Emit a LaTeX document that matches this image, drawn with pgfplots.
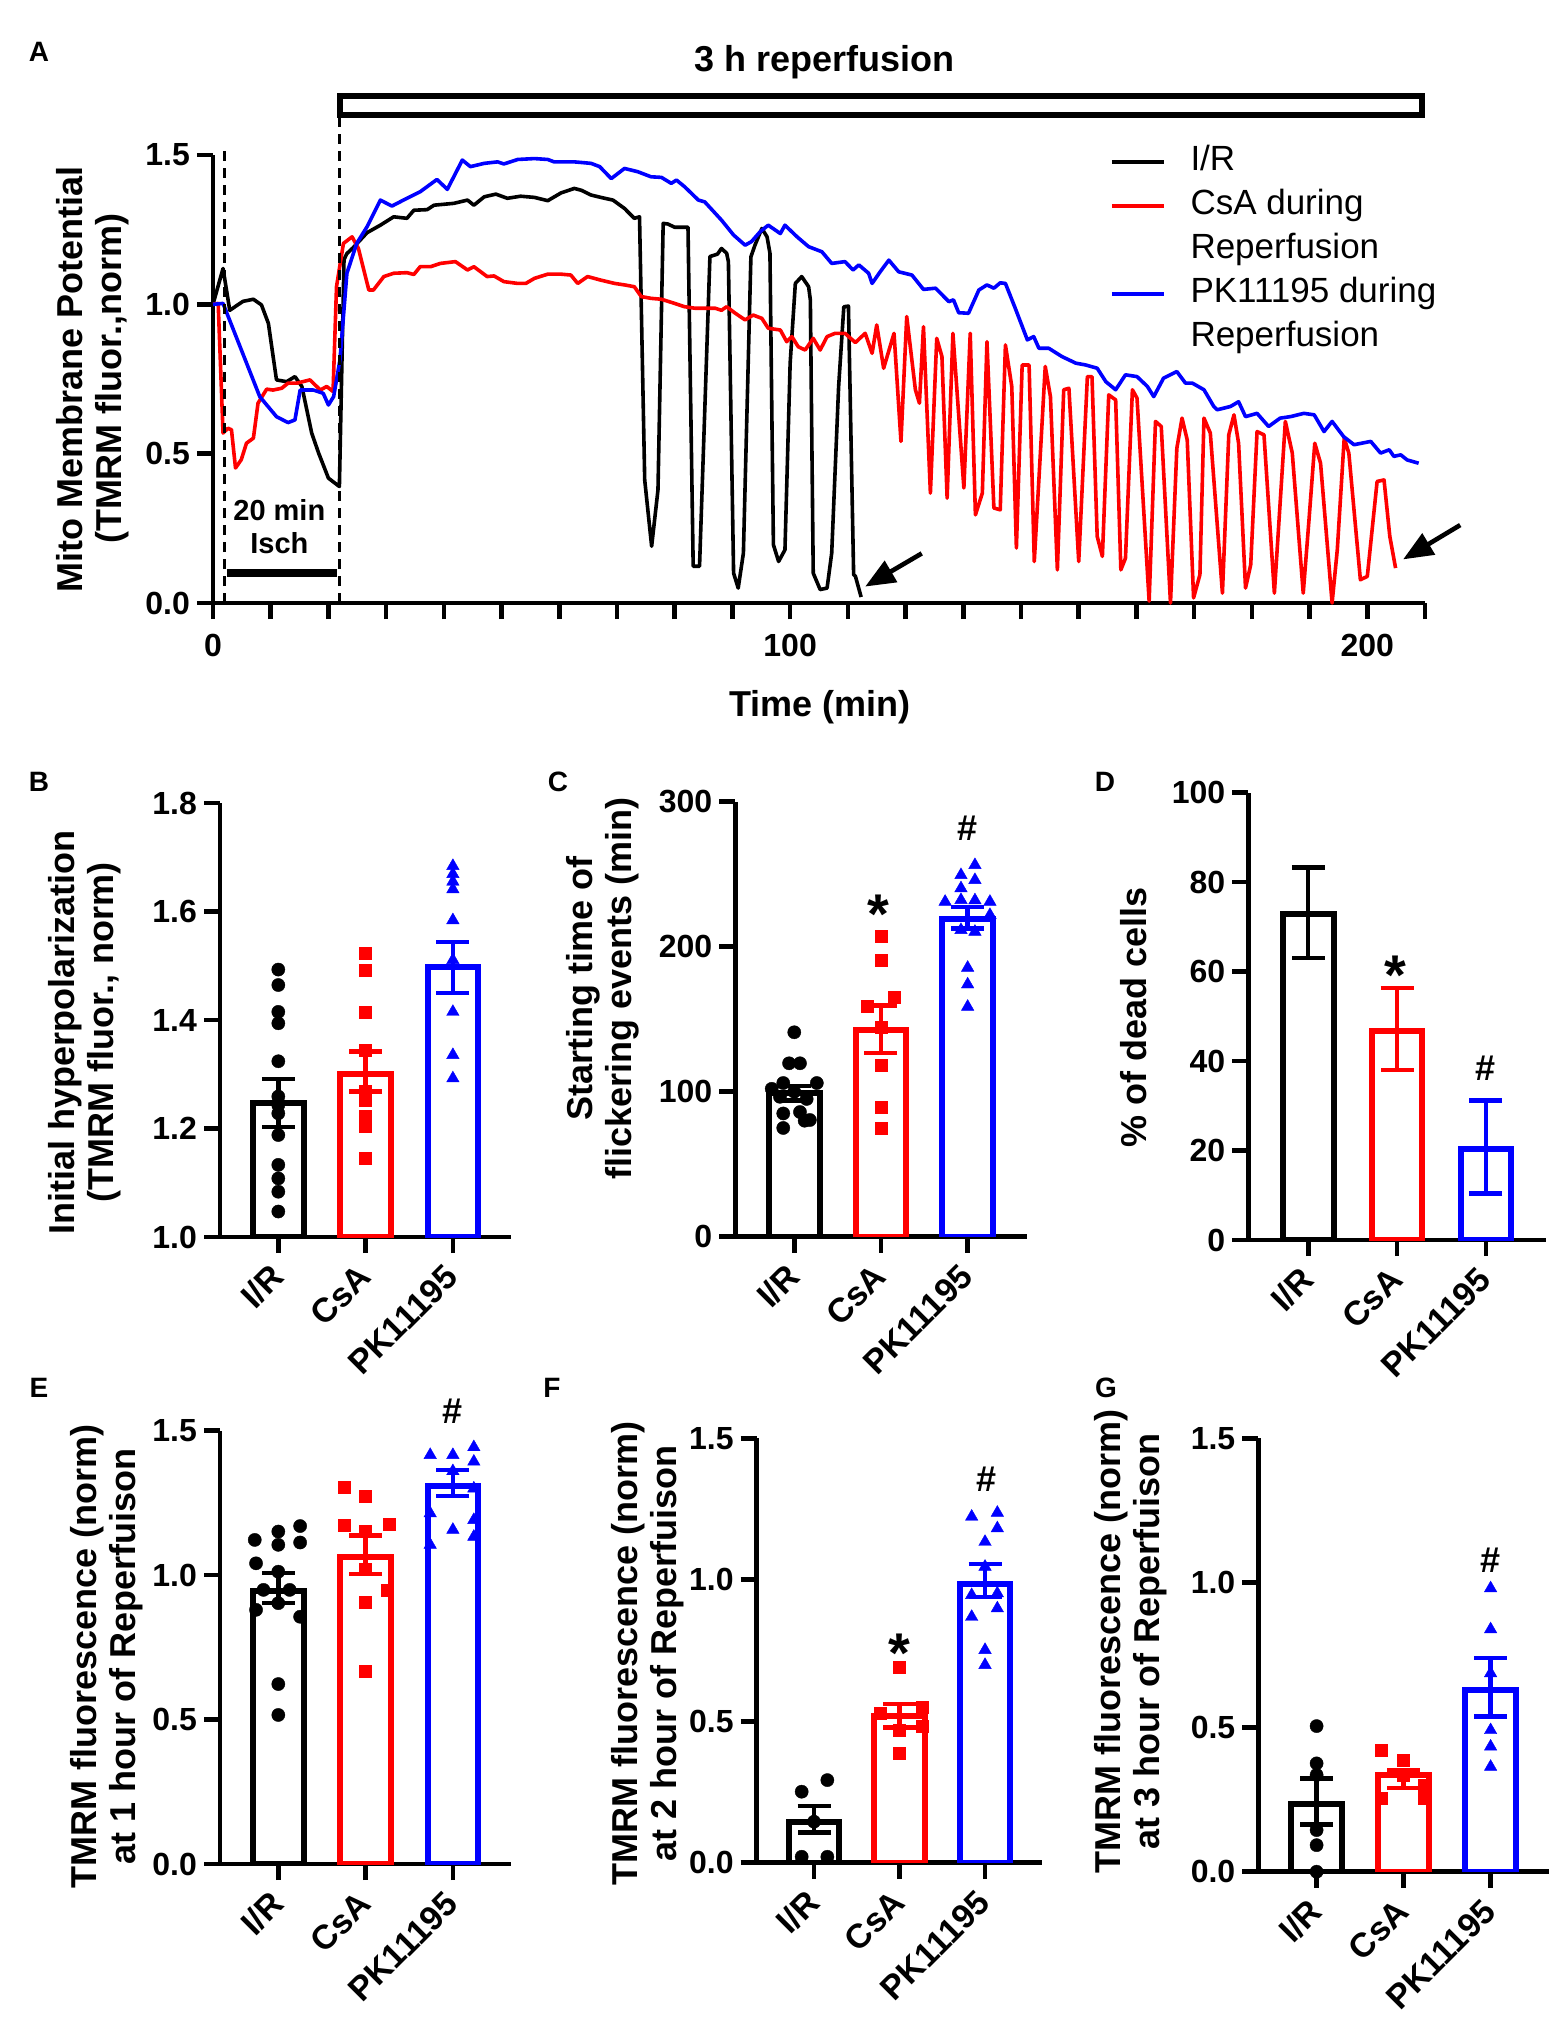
\documentclass[border=0pt]{standalone}
\usepackage{fontspec}
\setmainfont{Liberation Sans}
\usepackage{pgfplots}
\pgfplotsset{compat=1.18}
\usetikzlibrary{arrows.meta}

\definecolor{gpred}{RGB}{255,0,0}
\definecolor{gpblue}{RGB}{0,0,255}

\tikzset{
 gpstar/.style={font=\bfseries\fontsize{28}{28}\selectfont, anchor=north, inner sep=0pt},
 gphash/.style={font=\bfseries\fontsize{18}{18}\selectfont, inner sep=0pt},
}
\pgfplotsset{
 gp/.style={
  scale only axis,
  axis x line*=bottom, axis y line*=left,
  axis line style={line width=2.3pt, -},
  every outer x axis line/.append style={-},
  every outer y axis line/.append style={-},
  tick style={line width=2.3pt, black},
  tick align=outside, major tick length=8pt, minor tick length=8pt,
  /pgf/number format/assume math mode=true,
  yticklabel style={font=\bfseries\fontsize{16}{16}\selectfont},
  xticklabel style={font=\bfseries\fontsize{16}{16}\selectfont},
  label style={font=\bfseries\fontsize{18}{19.5}\selectfont, align=center},
  clip mode=individual,
 },
 barax/.style={gp,
  xtick={0,1,2}, xticklabels={I/R,CsA,PK11195},
  xticklabel shift=6.5pt,
  xticklabel style={xshift=2pt, rotate=45, anchor=east, font=\bfseries\fontsize{17}{17}\selectfont},
 },
 onedec/.style={yticklabel style={/pgf/number format/fixed, /pgf/number format/fixed zerofill, /pgf/number format/precision=1}},
 gbar/.style={ybar, bar width=25.3pt, bar shift=0pt, fill=white, line width=3pt, draw=#1},
 eb/.style={draw=none, mark=none, forget plot,
   /pgfplots/error bars/y dir=both, /pgfplots/error bars/y explicit,
   /pgfplots/error bars/error mark=-,
   /pgfplots/error bars/error bar style={draw=#1, line width=2.2pt},
   /pgfplots/error bars/error mark options={rotate=90, draw=#1, line width=2.2pt, mark size=8.25pt}},
 dots/.style={only marks, mark=*, mark size=3.3pt, black, mark options={fill=black, draw=black, line width=0.2pt}},
 sqs/.style={only marks, mark=square*, mark size=3pt, gpred, mark options={fill=gpred, draw=gpred, line width=0.2pt}},
 tris/.style={only marks, mark=triangle*, mark size=3.6pt, gpblue, mark options={fill=gpblue, draw=gpblue, line width=0.2pt}},
}

\begin{document}
\begin{tikzpicture}
\path[use as bounding box] (0,0) rectangle (781pt,-1010.5pt);

% ---------------- Panel A ----------------
\begin{axis}[gp, at={(106.5pt,-301.5pt)}, anchor=south west, width=606pt, height=224pt,
  xmin=0, xmax=210, ymin=0, ymax=1.5,
  xtick={0,100,200}, minor xtick={10,20,...,210},
  xticklabel shift=4pt,
  ytick={0,0.5,1,1.5}, onedec,
  xlabel={Time (min)}, ylabel={Mito Membrane Potential\\(TMRM fluor.,norm)},
  xlabel style={at={(axis description cs:0.501,-0.233)}, anchor=center},
  ylabel style={at={(axis description cs:-0.099,0.5)}, anchor=center},
  clip=false,
  legend style={at={(axis description cs:0.74,1.021)}, anchor=north west, draw=none, fill=none,
    inner sep=0pt, outer sep=0pt, row sep=6pt, column sep=12.5pt,
    font=\fontsize{17.5}{20}\selectfont,
    nodes={inner sep=0pt, text height=12.6pt, text depth=3.4pt}},
  legend cell align=left,
  legend image code/.code={\draw[#1] (0pt,0pt) -- (25.8pt,0pt);},
]
\addplot[black, line width=1.8pt, line join=round, forget plot] coordinates {
(0,1.0) (1.74,1.12) (2.9,0.98) (5.2,1.01) (7.0,1.017) (8.4,0.998) (9.6,0.936) (11,0.747) (12.75,0.741) (14.2,0.758) (15.4,0.725) (17.1,0.569) (18.3,0.502) (20,0.418) (21.9,0.39) (22.7,1.15) (23.2,1.17)
(24.3,1.19) (26.7,1.24) (29,1.265) (31.3,1.293) (33.6,1.288) (34.8,1.315) (37.1,1.317) (38.3,1.332) (41.7,1.338) (44.1,1.349) (45.2,1.332) (47,1.36) (49,1.369) (51,1.355) (53.3,1.362) (55.7,1.358) (58,1.347) (60.3,1.373) (62.6,1.388) (63.8,1.382) (65.5,1.366) (67.2,1.358) (69.3,1.349) (71.3,1.321) (73,1.288) (73.9,1.293)
(74.8,0.412) (76,0.19) (77.1,0.379) (78,1.271) (78.8,1.269) (80,1.258) (82.3,1.258) (83.2,0.123) (84.3,0.123) (86.1,1.16) (87.4,1.168) (88.1,1.187) (89,1.171) (89.3,1.143) (90.2,0.1) (91,0.05) (91.9,0.167) (93.2,1.159) (93.9,1.198) (95.1,1.254) (96,1.226) (96.5,1.171) (97.1,0.195) (98,0.139) (99.1,0.178) (100,0.803) (100.9,1.07) (102,1.093) (103.2,1.059) (103.5,1.015) (104,0.1) (105.2,0.045) (106.4,0.05) (107.2,0.167) (108.4,0.725) (109.3,0.992) (110.1,0.994) (111,0.095) (111.3,0.09) (112.3,0.02)
};
\addplot[gpred, line width=1.8pt, line join=round, forget plot] coordinates {
(0,1.0) (0.9,1.003) (1.74,0.569) (2.6,0.585) (3.2,0.58) (3.9,0.452) (4.9,0.48) (5.8,0.535) (7,0.552) (7.8,0.669) (9.3,0.716) (10.4,0.713) (11.9,0.719) (13,0.736) (14.5,0.736) (16.8,0.747) (18.6,0.713) (19.7,0.725) (20.8,0.708) (21.4,1.059) (22.6,1.204) (24.1,1.226) (25.2,1.187) (27,1.048) (27.8,1.048) (29.6,1.093) (31.3,1.104) (33.6,1.106) (34.8,1.1) (35.9,1.126) (37.7,1.126) (39.4,1.137) (42,1.143) (44.1,1.115) (45.2,1.126) (47.5,1.093) (48.7,1.095) (50.4,1.076) (52.8,1.07) (54.2,1.07) (55.7,1.087) (58,1.101) (60.3,1.101) (62,1.098) (63.2,1.07) (64.9,1.093) (67.2,1.081) (69.6,1.07) (71.3,1.065) (73,1.059) (74.2,1.026) (75.9,1.02) (77.7,1.017) (80,1.003) (81.7,0.992) (83.5,0.987) (85.8,0.987) (87,0.987) (88.1,0.98) (89,0.992) (90.5,0.97) (92.2,0.948) (93.6,0.964) (95.1,0.953) (96.2,0.92) (98.3,0.914) (99.4,0.875) (100.3,0.892) (101.4,0.858) (102.6,0.847) (104,0.886) (105.2,0.847) (106.4,0.892) (107.8,0.903) (109.5,0.903) (111.3,0.872) (113,0.903) (114.2,0.836) (115,0.931) (116.2,0.786) (118,0.903) (119.2,0.541) (120.2,0.959) (121.7,0.714) (122.4,0.669) (123.1,0.925) (124.3,0.368) (125.4,0.886) (126.3,0.825) (127.2,0.351) (128.2,0.903) (130.1,0.385) (131.2,0.903) (132.1,0.295) (133.3,0.368) (134.1,0.875) (135.3,0.318) (136.4,0.312) (137.3,0.864) (138.4,0.725) (139.2,0.184) (140.2,0.797) (141.4,0.797) (142.3,0.139) (144.2,0.792) (145.1,0.691) (146.3,0.111) (147.4,0.714) (148.3,0.719) (150,0.139) (151.5,0.758) (152.3,0.758) (153.2,0.223) (154.1,0.156) (155.2,0.697) (156.4,0.68) (157.3,0.111) (158.1,0.15) (159.3,0.714) (160.1,0.686) (162.2,0.006) (163.3,0.608) (164.3,0.591) (165.9,0.0) (167,0.518) (167.9,0.619) (168.8,0.546) (169.9,0.017) (171,0.095) (171.7,0.619) (172.8,0.569) (174.9,0.033) (176,0.563) (176.9,0.63) (177.7,0.535) (178.9,0.05) (179.8,0.128) (180.9,0.574) (182.1,0.563) (183.9,0.033) (185.8,0.608) (187,0.502) (188.9,0.033) (189.9,0.279) (190.9,0.535) (191.9,0.468) (193.9,0.0) (194.8,0.178) (196,0.552) (196.8,0.502) (198.8,0.078) (200,0.089) (201.7,0.407) (202.9,0.412) (203.9,0.223) (204.9,0.117)
};
\addplot[gpblue, line width=1.8pt, line join=round, forget plot] coordinates {
(0,1.0) (1.74,1.003) (8.1,0.691) (11,0.624) (13,0.604) (14.2,0.613) (15.1,0.713) (17.4,0.713) (19.1,0.702) (20,0.663) (20.9,0.691) (22,0.814) (23.2,1.104) (24.9,1.204) (26.7,1.26) (29,1.349) (31,1.329) (33,1.349) (35.9,1.377) (38.8,1.418) (40.6,1.385) (43.2,1.483) (44.6,1.461) (47,1.472) (49.3,1.477) (50.4,1.47) (52.8,1.485) (55.7,1.488) (58,1.485) (59.1,1.477) (62.6,1.477) (65.5,1.472) (67,1.461) (69,1.421) (71.3,1.455) (73.6,1.444) (75.9,1.427) (77.7,1.425) (79.4,1.405) (80.3,1.416) (81.7,1.394) (84.1,1.349) (85.2,1.343) (88.1,1.282) (90.2,1.232) (92.2,1.198) (93.3,1.21) (94.8,1.243) (96.2,1.265) (98.3,1.237) (99.1,1.265) (101.2,1.226) (103.2,1.193) (105.5,1.176) (107.2,1.137) (109.5,1.143) (110.9,1.115) (111.9,1.132) (113.6,1.104) (114.2,1.07) (115.6,1.109) (117.1,1.148) (118.8,1.109) (121.1,1.098) (123.1,1.05) (125.2,1.054) (127.5,1.009) (128.3,1.015) (129.2,0.972) (130.9,0.97) (132.7,1.048) (134.1,1.065) (135.3,1.054) (136.4,1.072) (137.3,1.07) (139,0.987) (141.1,0.881) (142.2,0.892) (143.1,0.853) (144.8,0.853) (147.1,0.825) (149.5,0.803) (151.2,0.797) (153.2,0.786) (154.7,0.741) (156.4,0.714) (158.1,0.764) (160.1,0.758) (161.9,0.725) (163,0.691) (164.7,0.753) (167,0.775) (168.5,0.736) (169.7,0.736) (171.7,0.714) (173.4,0.658) (174,0.647) (176.3,0.658) (177.7,0.674) (178.9,0.624) (180.9,0.635) (182.9,0.591) (184.9,0.619) (186.7,0.624) (189,0.635) (190.8,0.63) (192.5,0.574) (193.9,0.608) (195.9,0.557) (197.7,0.53) (200.6,0.541) (202.3,0.502) (203.8,0.513) (204.6,0.491) (205.8,0.496) (206.9,0.479) (208.9,0.468)
};
\addlegendimage{black, line width=2pt}\addlegendentry{I/R}
\addlegendimage{gpred, line width=2pt}\addlegendentry{CsA during}
\addlegendimage{empty legend}\addlegendentry{Reperfusion}
\addlegendimage{gpblue, line width=2pt}\addlegendentry{PK11195 during}
\addlegendimage{empty legend}\addlegendentry{Reperfusion}
% annotations
\draw[line width=1.5pt, dash pattern=on 5pt off 3.5pt] (axis cs:2,0) -- (axis cs:2,1.533);
\draw[line width=1.5pt, dash pattern=on 5pt off 3.5pt] (axis cs:22,0) -- (axis cs:22,1.635);
\draw[line width=3pt] (axis cs:22,1.635) rectangle (axis cs:209.5,1.696);
\node[font=\bfseries\fontsize{18}{18}\selectfont] at (axis cs:106,1.81) {3 h reperfusion};
\node[font=\bfseries\fontsize{14.5}{16.5}\selectfont, align=center] at (axis cs:11.5,0.256) {20 min\\Isch};
\draw[line width=4pt] (axis cs:2.4,0.099) -- (axis cs:21.4,0.099);
\draw[line width=2.3pt, -{Triangle[length=15pt, width=12pt]}] (axis cs:122.8,0.166) -- (axis cs:113.0,0.055);
\draw[line width=2.3pt, -{Triangle[length=15pt, width=12pt]}] (axis cs:216.1,0.261) -- (axis cs:206.2,0.146);
\end{axis}

% ---------------- Panel B ----------------
\begin{axis}[barax, at={(110pt,-618.5pt)}, anchor=south west, width=145.6pt, height=217pt,
  xmin=-0.668, xmax=2.668, ymin=1, ymax=1.8, ytick={1,1.2,1.4,1.6,1.8}, onedec,
  ylabel={Initial hyperpolarization\\(TMRM fluor., norm)},
  ylabel style={at={(axis description cs:-0.464,0.472)}, anchor=center}]
\addplot[gbar=black] coordinates {(0,1.247)};
\addplot[gbar=gpred] coordinates {(1,1.30)};
\addplot[gbar=gpblue] coordinates {(2,1.497)};
\addplot[dots] coordinates {(0,1.493) (0,1.4645) (0,1.415) (0,1.394) (0,1.324) (0,1.259) (0,1.243) (0,1.228) (0,1.188) (0,1.133) (0,1.108) (0,1.0835) (0,1.047)};
\addplot[sqs] coordinates {(1,1.523) (1,1.491) (1,1.4135) (1,1.3435) (1,1.268) (1,1.2525) (1,1.222) (1,1.2035) (1,1.145)};
\addplot[tris] coordinates {(2,1.684) (2,1.669) (2,1.655) (2,1.641) (2,1.584) (2,1.5106) (2,1.415) (2,1.3355) (2,1.2925)};
\addplot[eb=black] coordinates {(0,1.247) +- (0,0.044)};
\addplot[eb=gpred] coordinates {(1,1.305) +- (0,0.037)};
\addplot[eb=gpblue] coordinates {(2,1.497) +- (0,0.047)};
\end{axis}

% ---------------- Panel C ----------------
\begin{axis}[barax, at={(367.65pt,-618.35pt)}, anchor=south west, width=145.65pt, height=217.5pt,
  xmin=-0.68, xmax=2.68, ymin=0, ymax=300, ytick={0,100,200,300},
  ylabel={Starting time of\\flickering events (min)},
  ylabel style={at={(axis description cs:-0.454,0.57)}, anchor=center}]
\addplot[gbar=black] coordinates {(0,99)};
\addplot[gbar=gpred] coordinates {(1,142.5)};
\addplot[gbar=gpblue] coordinates {(2,219)};
\addplot[dots] coordinates {(0,141) (-0.06,119.6) (0.066,119.6) (0.26,106) (-0.127,106) (-0.26,102) (0,100) (-0.165,96.5) (0.143,95) (0.066,86) (-0.127,85) (0.18,80.5) (-0.127,75) (0.12,80)};
\addplot[sqs] coordinates {(1,207.4) (1,190.8) (0.84,159) (1.15,165.5) (1,144.8) (1,118.4) (1,89) (1,74.7)};
\addplot[tris] coordinates {(2.084,256.3) (1.923,249.4) (2.084,246) (1.923,240.3) (1.74,231) (1.923,232.2) (2.084,232) (2.257,231) (2.257,221.9) (1.923,211.5) (2.084,210.3) (2,185.5) (2,174) (2,158.6)};
\addplot[eb=black] coordinates {(0,99) +- (0,5)};
\addplot[eb=gpred] coordinates {(1,143) +- (0,16.5)};
\addplot[eb=gpblue] coordinates {(2,220) +- (0,7.5)};
\node[gpstar] at (axis cs:0.97,235.7) {*};
\node[gphash] at (axis cs:2,281.7) {\#};
\end{axis}

% ---------------- Panel D ----------------
\begin{axis}[barax, at={(624.15pt,-620pt)}, anchor=south west, width=148.8pt, height=223.65pt,
  xmin=-0.675, xmax=2.675, ymin=0, ymax=100, ytick={0,20,40,60,80,100},
  ylabel={\% of dead cells},
  ylabel style={at={(axis description cs:-0.384,0.497)}, anchor=center}]
\addplot[gbar=black] coordinates {(0,72.8)};
\addplot[gbar=gpred] coordinates {(1,46.8)};
\addplot[gbar=gpblue] coordinates {(2,20.3)};
\addplot[eb=black] coordinates {(0,73.2) +- (0,10.1)};
\addplot[eb=gpred] coordinates {(1,47.2) +- (0,9.2)};
\addplot[eb=gpblue] coordinates {(2,20.8) +- (0,10.4)};
\node[gpstar] at (axis cs:0.975,63.7) {*};
\node[gphash] at (axis cs:1.99,38.4) {\#};
\end{axis}

% ---------------- Panel E ----------------
\begin{axis}[barax, at={(110pt,-932pt)}, anchor=south west, width=145.6pt, height=216.65pt,
  xmin=-0.668, xmax=2.668, ymin=0, ymax=1.5, ytick={0,0.5,1,1.5}, onedec,
  ylabel={TMRM fluorescence (norm)\\at 1 hour of Reperfuison},
  ylabel style={at={(axis description cs:-0.39,0.48)}, anchor=center}]
\addplot[gbar=black] coordinates {(0,0.945)};
\addplot[gbar=gpred] coordinates {(1,1.062)};
\addplot[gbar=gpblue] coordinates {(2,1.31)};
\addplot[dots] coordinates {(0.25,1.170) (0,1.151) (-0.27,1.122) (0.25,1.113) (0,1.105) (-0.255,1.041) (0,1.012) (-0.17,0.949) (0.13,0.949) (0,0.903) (-0.255,0.880) (0.25,0.856) (0,0.623) (0,0.516)};
\addplot[sqs] coordinates {(0.75,1.306) (1,1.274) (0.75,1.174) (1.27,1.177) (1,1.151) (1,1.02) (1.25,0.949) (1,0.908) (1,0.666)};
\addplot[tris] coordinates {(1.74,1.416) (2,1.416) (2.24,1.443) (2.24,1.393) (2,1.36) (2.24,1.30) (1.74,1.214) (2.24,1.191) (2,1.157) (1.74,1.105) (2.24,1.133)};
\addplot[eb=black] coordinates {(0,0.955) +- (0,0.052)};
\addplot[eb=gpred] coordinates {(1,1.07) +- (0,0.067)};
\addplot[eb=gpblue] coordinates {(2,1.32) +- (0,0.045)};
\node[gphash] at (axis cs:1.99,1.566) {\#};
\end{axis}

% ---------------- Panel F ----------------
\begin{axis}[barax, at={(378.35pt,-931.35pt)}, anchor=south west, width=142.8pt, height=212.2pt,
  xmin=-0.67, xmax=2.67, ymin=0, ymax=1.5, ytick={0,0.5,1,1.5}, onedec,
  ylabel={TMRM fluorescence (norm)\\at 2 hour of Reperfuison},
  ylabel style={at={(axis description cs:-0.38,0.494)}, anchor=center}]
\addplot[gbar=black] coordinates {(0,0.145)};
\addplot[gbar=gpred] coordinates {(1,0.52)};
\addplot[gbar=gpblue] coordinates {(2,0.985)};
\addplot[dots] coordinates {(0.156,0.292) (-0.144,0.251) (0,0.145) (-0.144,0.021) (0.156,0.021)};
\addplot[sqs] coordinates {(1,0.690) (1.26,0.551) (0.77,0.53) (1.26,0.481) (1,0.47) (1,0.387)};
\addplot[tris] coordinates {(1.844,1.223) (2.144,1.237) (2.144,1.182) (2,1.134) (2,1.046) (1.844,0.946) (2.144,0.952) (2.144,0.899) (1.844,0.869) (2,0.752) (2,0.699)};
\addplot[eb=black] coordinates {(0,0.154) +- (0,0.047)};
\addplot[eb=gpred] coordinates {(1,0.52) +- (0,0.042)};
\addplot[eb=gpblue] coordinates {(2,0.998) +- (0,0.058)};
\node[gpstar] at (axis cs:1,0.81) {*};
\node[gphash] at (axis cs:2.02,1.355) {\#};
\end{axis}

% ---------------- Panel G ----------------
\begin{axis}[barax, at={(629.15pt,-935.85pt)}, anchor=south west, width=145.3pt, height=216.7pt,
  xmin=-0.67, xmax=2.67, ymin=0, ymax=1.5, ytick={0,0.5,1,1.5}, onedec,
  ylabel={TMRM fluorescence (norm)\\at 3 hour of Reperfuison},
  ylabel style={at={(axis description cs:-0.44,0.532)}, anchor=center}]
\addplot[gbar=black] coordinates {(0,0.235)};
\addplot[gbar=gpred] coordinates {(1,0.335)};
\addplot[gbar=gpblue] coordinates {(2,0.628)};
\addplot[dots] coordinates {(0,0.504) (0,0.375) (0,0.335) (0,0.144) (0,0.092) (0,0.0)};
\addplot[sqs] coordinates {(0.74,0.421) (1,0.385) (1,0.335) (1.24,0.30) (0.74,0.254) (1.24,0.254)};
\addplot[tris] coordinates {(2,0.981) (2,0.839) (2,0.687) (2,0.49) (2,0.433) (2,0.363)};
\addplot[eb=black] coordinates {(0,0.243) +- (0,0.08)};
\addplot[eb=gpred] coordinates {(1,0.32) +- (0,0.031)};
\addplot[eb=gpblue] coordinates {(2,0.638) +- (0,0.101)};
\node[gphash] at (axis cs:2,1.079) {\#};
\end{axis}

% panel letters
\foreach \l/\x/\y in {A/19.5/-26, B/19.5/-391, C/279/-391, D/552.5/-391, E/19.5/-694, F/276/-694, G/553/-694}
  \node[font=\bfseries\fontsize{14}{14}\selectfont] at (\x pt,\y pt) {\l};
\end{tikzpicture}
\end{document}
